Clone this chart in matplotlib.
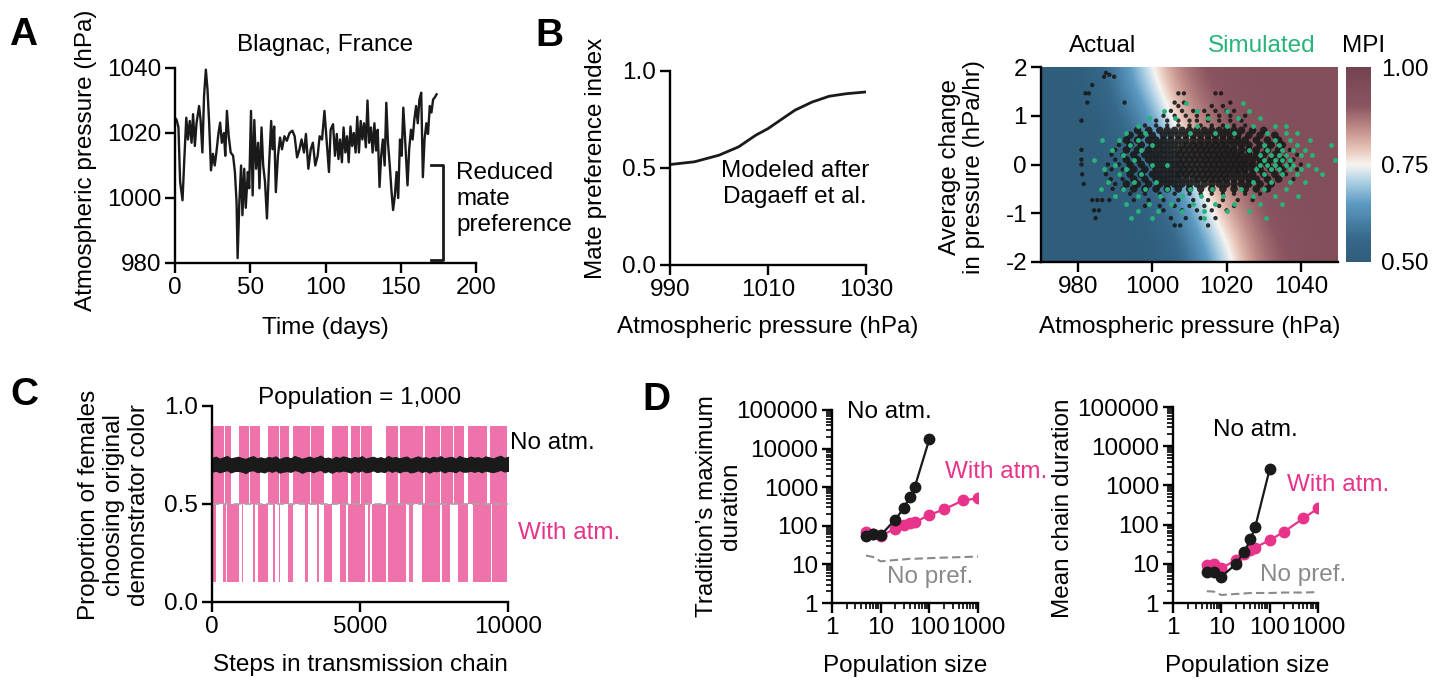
import numpy as np
import matplotlib
matplotlib.use('Agg')
import matplotlib.pyplot as plt
from matplotlib.colors import LinearSegmentedColormap
from matplotlib.ticker import LogLocator, NullFormatter

plt.rcParams['font.family'] = ['Liberation Sans', 'DejaVu Sans']
plt.rcParams['font.size'] = 17.5
plt.rcParams['axes.unicode_minus'] = False

#%% data
# A: pressure record, Blagnac
days_A = [0, 1.1, 2.3, 3.4, 5, 6.1, 7.5, 8.6, 9.8, 11, 12, 13.2, 14.3, 16, 17, 18.2, 19.3, 20.5,
          21.6, 22.7, 23.9, 25.2, 26.4, 27.5, 28.9, 30, 31.1, 32.5, 33.4, 34.5, 35.7, 37, 38.6,
          39.8, 40.9, 41.6, 42.7, 43.9, 44.8, 46, 47, 48.4, 49.3, 50.5, 51.6, 52.7, 53.9, 55.2,
          56.1, 57.5, 58.6, 59.8, 61.1, 62.5, 63.9, 64.8, 65.9, 67, 68.4, 69.8, 71.1, 72.7, 74.3,
          76.1, 78, 79.5, 81.1, 82.5, 84.1, 85.7, 87, 88.6, 90.2, 91.6, 93.2, 94.8, 96.1, 97.7,
          99.3, 100.7, 102.3, 103.4, 105, 106.3, 107.5, 108.6, 109.7, 110.9, 112, 113.2, 114.3,
          115.4, 116.6, 117.7, 118.8, 120, 121.1, 122.2, 123.4, 124.5, 125.6, 126.8, 127.9, 129,
          130.2, 131.3, 132.5, 133.6, 134.7, 135.9, 137, 138.1, 139.3, 140.4, 141.5, 142.7, 143.8,
          144.9, 146.1, 147.2, 148.3, 149.5, 150.6, 151.7, 152.9, 154.5, 155.6, 156.8, 157.9, 159,
          160.2, 161.3, 162.4, 163.6, 164.7, 165.8, 167, 168.1, 169.3, 170.4, 171.5, 172.7, 173.8]
press_A = [1024.7, 1024, 1021.7, 1005, 999.3, 1011, 1024.7, 1018, 1023.7, 1017, 1025.8, 1016, 1023,
           1028.3, 1024, 1014, 1031.4, 1039.5, 1033.4, 1023, 1008.5, 1013.6, 1010, 1014, 1020,
           1023.2, 1017, 1020, 1013, 1026.8, 1019, 1014, 1013, 1008, 998.8, 981.5, 998, 1010,
           994.7, 1009, 997, 1008, 1003, 1026.8, 1000.8, 1024, 1009, 1017, 1003, 1021.7, 1010,
           1005, 993.7, 1010, 1023.7, 1015, 1022, 1001.8, 1013, 1018.6, 1015, 1019, 1017.6, 1020,
           1020.7, 1019, 1012.5, 1014.6, 1018, 1014, 1019.7, 1009, 1015, 1017, 1010, 1013, 1019,
           1018, 1026.8, 1018, 1008, 1021, 1022.7, 1013, 1019.7, 1012, 1018, 1011, 1021.7, 1014,
           1019, 1011, 1022, 1016, 1020, 1014, 1025, 1014, 1023.7, 1018, 1023, 1015.6, 1030, 1017,
           1021.7, 1014, 1023, 1014.6, 1021, 1003.4, 1013, 1018, 1010, 1029.3, 1017, 1010, 1002.4,
           996.3, 1000.8, 1008, 1000, 1018, 1013, 1027.8, 1018, 1003.9, 1015, 1021, 1018, 1024,
           1028.3, 1023, 1030.3, 1032.4, 1006.4, 1018, 1023, 1019.7, 1028.3, 1026.3, 1030.3, 1031,
           1031.9]
bracket_days = [170, 178]          # bracket for reduced mate preference
bracket_hpa = [1010, 981]

# B left: modelled mate preference index
mpi_p = [990, 995, 1000, 1004, 1007.5, 1010, 1013, 1015.5, 1019, 1022.5, 1026, 1030]
mpi_v = [0.518, 0.532, 0.566, 0.609, 0.669, 0.703, 0.755, 0.798, 0.840, 0.870, 0.883, 0.892]

# B right: MPI surface, rows dp = -2..2, columns p = 970..1050 step 5
grid_p = [970, 975, 980, 985, 990, 995, 1000, 1005, 1010, 1015, 1020, 1025, 1030, 1035, 1040, 1045, 1050]
grid_dp = [-2, -1, 0, 1, 2]
mpi_grid = [
    [0.50, 0.50, 0.50, 0.50, 0.50, 0.50, 0.51, 0.53, 0.57, 0.63, 0.71, 0.80, 0.86, 0.89, 0.92, 0.93, 0.93],
    [0.50, 0.50, 0.50, 0.50, 0.50, 0.51, 0.53, 0.57, 0.64, 0.73, 0.81, 0.86, 0.90, 0.92, 0.93, 0.93, 0.93],
    [0.50, 0.50, 0.50, 0.50, 0.51, 0.54, 0.58, 0.65, 0.74, 0.82, 0.87, 0.90, 0.92, 0.93, 0.93, 0.93, 0.93],
    [0.50, 0.50, 0.50, 0.51, 0.55, 0.59, 0.66, 0.75, 0.83, 0.87, 0.90, 0.92, 0.93, 0.93, 0.93, 0.93, 0.93],
    [0.50, 0.50, 0.52, 0.55, 0.60, 0.68, 0.76, 0.84, 0.88, 0.91, 0.92, 0.93, 0.93, 0.93, 0.93, 0.93, 0.93],
]

# actual points: (change in pressure, [pressures])
actual_rows = [
    (1.88, [987.5]), (1.84, [988.4]), (1.80, [987.0, 989.7]), (1.63, [983.8]),
    (1.46, [982.0, 982.9, 1007, 1008.5, 1017, 1018.5]),
    (1.27, [982.5, 992.5, 1006, 1008.5, 1021]),
    (1.2, [1007, 1016, 1019]),
    (1.1, [1005, 1008, 1011, 1014, 1017, 1020, 1022]),
    (1.0, [1003, 1006, 1009, 1012, 1015, 1018, 1021, 1025]),
    (0.9, [980.9, 1001, 1004, 1007, 1010, 1012, 1015, 1018, 1021, 1024]),
    (0.8, [998, 1001, 1004, 1007, 1010, 1013, 1016, 1019, 1022, 1025]),
    (0.7, [996, 999, 1002, 1004, 1006, 1008, 1010, 1012, 1014, 1016, 1018, 1020, 1022, 1024, 1027, 1030]),
    (0.6, [994, 997, 1000, 1003, 1005, 1007, 1009, 1011, 1013, 1015, 1017, 1019, 1021, 1023, 1026, 1029, 1033]),
    (0.5, [993, 996, 999, 1001, 1003, 1005, 1007, 1009, 1011, 1013, 1015, 1017, 1019, 1021, 1023, 1025, 1028, 1031, 1034]),
    (0.4, [991, 994, 997, 1000, 1002, 1004, 1006, 1008, 1009.5, 1011, 1012.5, 1014, 1015.5, 1017, 1018.5, 1020, 1022, 1024, 1026, 1029, 1032, 1035]),
    (0.3, [980.9, 990, 993, 996, 999, 1001, 1003, 1005, 1007, 1008.5, 1010, 1011.5, 1013, 1014.5, 1016, 1017.5, 1019, 1020.5, 1022, 1024, 1026, 1028, 1031, 1034, 1037]),
    (0.2, [989, 992, 995, 998, 1000, 1002, 1004, 1006, 1007.5, 1009, 1010.5, 1012, 1013.5, 1015, 1016.5, 1018, 1019.5, 1021, 1022.5, 1024, 1026, 1028, 1030, 1033, 1036, 1039]),
    (0.1, [980.9, 990, 993, 996, 999, 1001, 1003, 1005, 1007, 1008.5, 1010, 1011.5, 1013, 1014.5, 1016, 1017.5, 1019, 1020.5, 1022, 1023.5, 1025, 1027, 1029, 1032, 1035, 1038]),
    (0.0, [980.9, 988, 991, 994, 997, 1000, 1002, 1004, 1006, 1007.5, 1009, 1010.5, 1012, 1013.5, 1015, 1016.5, 1018, 1019.5, 1021, 1022.5, 1024, 1025.5, 1027, 1029, 1031, 1034, 1037, 1040]),
    (-0.1, [989, 992, 995, 998, 1001, 1003, 1005, 1007, 1008.5, 1010, 1011.5, 1013, 1014.5, 1016, 1017.5, 1019, 1020.5, 1022, 1023.5, 1025, 1027, 1029, 1032, 1035, 1039]),
    (-0.2, [981.1, 987.5, 991, 994, 997, 1000, 1002, 1004, 1006, 1007.5, 1009, 1010.5, 1012, 1013.5, 1015, 1016.5, 1018, 1019.5, 1021, 1023, 1025, 1027, 1030, 1033, 1036]),
    (-0.3, [988.8, 992, 995, 998, 1001, 1003, 1005, 1007, 1009, 1011, 1012.5, 1014, 1015.5, 1017, 1018.5, 1020, 1022, 1024, 1026, 1028, 1031, 1034, 1038]),
    (-0.4, [981.5, 990, 993, 996, 999, 1002, 1004, 1006, 1008, 1010, 1012, 1014, 1016, 1018, 1020, 1022, 1024, 1026, 1029, 1032]),
    (-0.5, [989.3, 992, 995, 998, 1001, 1004, 1007, 1010, 1013, 1016, 1019, 1022, 1025, 1028, 1031]),
    (-0.6, [994, 998, 1002, 1006, 1010, 1013, 1016, 1019, 1022, 1025, 1029]),
    (-0.73, [983.8, 985.2, 986.5, 988.4, 995, 999, 1003, 1007, 1011, 1015, 1019, 1023, 1027]),
    (-0.85, [998, 1002, 1006, 1010, 1014, 1018, 1022]),
    (-0.94, [984.3, 985.6, 1003, 1008, 1012, 1016, 1020]),
    (-1.1, [984.7, 1005, 1009, 1013, 1017]),
    (-1.25, [1006, 1007.5, 1015]),
]
simulated_rows = [
    (1.27, [1009, 1024.3]), (1.1, [1003, 1012, 1020, 1026]),
    (0.95, [999, 1006, 1015, 1023, 1029]),
    (0.8, [996, 1012, 1020, 1027, 1033, 1036]),
    (0.65, [993, 998, 1010, 1017, 1022, 1031, 1036, 1039]),
    (0.5, [986.5, 991, 996, 1033, 1037, 1042.5]),
    (0.4, [994, 1000, 1030, 1034, 1039, 1048]),
    (0.3, [989, 997, 1026, 1031, 1035, 1038, 1041]),
    (0.2, [992, 1029, 1032, 1034, 1036, 1040, 1043]),
    (0.1, [984.2, 995, 1030, 1033, 1035, 1037, 1049.3]),
    (0.0, [990, 1000, 1004, 1029, 1031, 1033, 1036, 1038, 1042]),
    (-0.1, [987, 993, 1028, 1032, 1034, 1037, 1040, 1044]),
    (-0.2, [991, 997, 1030, 1035, 1039, 1045.6]),
    (-0.35, [988, 995, 1001, 1027, 1032, 1037, 1041]),
    (-0.5, [986.1, 992, 998, 1004, 1010, 1016, 1024, 1030, 1036]),
    (-0.65, [990, 996, 1002, 1008, 1013, 1019, 1027, 1033, 1039.3]),
    (-0.8, [993, 999, 1005, 1011, 1017, 1022, 1029, 1035]),
    (-0.95, [996, 1001.5, 1008, 1014, 1020, 1026]),
    (-1.1, [994.3, 1000, 1013.8, 1030.6]),
]

# C: transmission chain, population 1000 -- spread of the no-atm. run
no_atm_hi = [0.735, 0.742, 0.731, 0.738, 0.745, 0.733, 0.737, 0.741, 0.734, 0.730, 0.739, 0.744, 0.733,
             0.738, 0.732, 0.740, 0.736, 0.743, 0.729, 0.737, 0.740, 0.733, 0.745, 0.738, 0.731, 0.736,
             0.742, 0.734, 0.739, 0.747, 0.733, 0.737, 0.730, 0.741, 0.735, 0.743, 0.738, 0.732, 0.740,
             0.736, 0.744, 0.731, 0.737, 0.741, 0.734, 0.739, 0.732, 0.745, 0.736, 0.740, 0.733, 0.738,
             0.742, 0.730, 0.737, 0.743, 0.735, 0.739, 0.732, 0.741, 0.736, 0.744, 0.733, 0.738, 0.740,
             0.731, 0.745, 0.737, 0.734, 0.742, 0.736, 0.739, 0.733, 0.743, 0.738, 0.732, 0.740, 0.746,
             0.735, 0.741]
no_atm_lo = [0.664, 0.670, 0.662, 0.667, 0.673, 0.661, 0.668, 0.669, 0.665, 0.658, 0.670, 0.672, 0.663,
             0.666, 0.661, 0.671, 0.664, 0.672, 0.660, 0.665, 0.668, 0.664, 0.673, 0.669, 0.659, 0.667,
             0.670, 0.662, 0.670, 0.674, 0.661, 0.668, 0.659, 0.669, 0.666, 0.671, 0.667, 0.660, 0.671,
             0.664, 0.672, 0.662, 0.665, 0.672, 0.663, 0.667, 0.663, 0.673, 0.664, 0.671, 0.661, 0.669,
             0.670, 0.661, 0.665, 0.672, 0.663, 0.670, 0.660, 0.669, 0.667, 0.672, 0.661, 0.669, 0.668,
             0.662, 0.673, 0.665, 0.665, 0.670, 0.664, 0.670, 0.662, 0.671, 0.666, 0.663, 0.668, 0.674,
             0.666, 0.669]
# with atm.: step ranges where the chain sits in the high (0.5-0.9) / low (0.1-0.5) state
high_runs = [(40, 400), (440, 650), (900, 1250), (1290, 1630), (1880, 2250), (2290, 2600),
             (2730, 3300), (3340, 3800), (4050, 4610), (4700, 5000), (5040, 5420), (5870, 6300),
             (6340, 7120), (7210, 7700), (7740, 8150), (8190, 8520), (8650, 9280), (9400, 9960)]
low_runs = [(35, 150), (380, 460), (510, 920), (1010, 1060), (1370, 1450), (1560, 1900),
            (2050, 2120), (2250, 2300), (2560, 2740), (3130, 3260), (3560, 3620), (3780, 4060),
            (4330, 4520), (4580, 5180), (5280, 5350), (5400, 5880), (5930, 6550), (6660, 6780),
            (7100, 7700), (7760, 8050), (8300, 8660), (8830, 9300), (9260, 9420), (9460, 9970)]

# D: population sizes and durations
pop_no_atm = [5, 7, 10, 20, 30, 40, 50, 100]
pop_atm = [5, 7, 10, 20, 30, 40, 50, 100, 200, 500, 1000]
max_no_atm = [54, 60, 57, 145, 290, 570, 1000, 17500]
max_atm = [68, 62, 55, 85, 105, 115, 122, 192, 265, 460, 510]
max_no_pref = [17, 15.5, 12, 13, 13.5, 14, 14, 14.5, 15, 15.5, 16]
mean_no_atm = [6.3, 6.3, 4.7, 9.8, 20.4, 42, 85, 2600]
mean_atm = [9.3, 9.9, 7.7, 12.5, 17.8, 22.6, 26, 40, 66, 145, 260]
mean_no_pref = [2.0, 1.95, 1.6, 1.7, 1.75, 1.8, 1.8, 1.8, 1.85, 1.85, 1.9]

#%% style
W, H = 1433, 683
fig = plt.figure(figsize=(W / 100, H / 100), dpi=100)
pink_line = '#ee73aa'
pink = '#e8338b'
green = '#27b37a'
grey = '#8a8a8a'
ink = '#1a1a1a'

def box(l, r, t, b):
    return fig.add_axes([l / W, 1 - b / H, (r - l) / W, (b - t) / H])

def put(x, y, s, **kw):
    kw.setdefault('ha', 'center')
    kw.setdefault('va', 'center')
    return fig.text(x / W, 1 - y / H, s, **kw)

def style(ax):
    for s in ['top', 'right']:
        ax.spines[s].set_visible(False)
    for s in ['left', 'bottom']:
        ax.spines[s].set_linewidth(1.7)
    ax.tick_params(width=1.7, length=7, labelsize=17.5, pad=3)

#%% A
axA = box(175, 476, 68, 263)
style(axA)
axA.plot(days_A, press_A, color=ink, lw=1.7)
axA.plot([bracket_days[0], bracket_days[1], bracket_days[1], bracket_days[0]],
         [bracket_hpa[0], bracket_hpa[0], bracket_hpa[1], bracket_hpa[1]],
         color=ink, lw=2, clip_on=False)
axA.set_xlim(0, 200)
axA.set_ylim(980, 1040)
axA.set_xticks([0, 50, 100, 150, 200])
axA.set_yticks([980, 1000, 1020, 1040])
put(325, 45, 'Blagnac, France')
put(325, 328, 'Time (days)')
put(86, 160, 'Atmospheric pressure (hPa)', rotation=90)
put(456, 199, 'Reduced\nmate\npreference', ha='left', linespacing=1.22)

#%% B left
axB1 = box(670, 866, 71, 265)
style(axB1)
axB1.plot(mpi_p, mpi_v, color=ink, lw=2)
axB1.set_xlim(990, 1030)
axB1.set_ylim(0, 1)
axB1.set_xticks([990, 1010, 1030])
axB1.set_yticks([0, 0.5, 1.0])
axB1.set_yticklabels(['0.0', '0.5', '1.0'])
put(596, 158, 'Mate preference index', rotation=90)
put(768, 327, 'Atmospheric pressure (hPa)')
put(795, 184, 'Modeled after\nDagaeff et al.', linespacing=1.2)

#%% B right
cmap = LinearSegmentedColormap.from_list('mpi', [
    (0.00, '#2f5d7a'), (0.12, '#36688a'), (0.30, '#5d9bc3'), (0.42, '#b4d4e6'),
    (0.50, '#f6f4f1'), (0.58, '#e8c4b7'), (0.68, '#c28e89'), (0.80, '#8a5560'),
    (1.00, '#744350')])
axB2 = box(1041, 1338, 67, 262)
style(axB2)
im = axB2.imshow(np.array(mpi_grid), extent=[967.5, 1052.5, -2.5, 2.5], origin='lower',
                 aspect='auto', cmap=cmap, vmin=0.5, vmax=1.0, interpolation='bicubic')
ax_p = [p for dp, ps in actual_rows for p in ps]
ax_d = [dp for dp, ps in actual_rows for p in ps]
# bigger dots in the crowded core so it reads as a solid blob
ax_s = [30 if (len(ps) >= 15 and 992 < p < 1036) else 10 for dp, ps in actual_rows for p in ps]
sm_p = [p for dp, ps in simulated_rows for p in ps]
sm_d = [dp for dp, ps in simulated_rows for p in ps]
axB2.scatter(ax_p, ax_d, s=ax_s, color=ink, alpha=0.9, lw=0)
axB2.scatter(sm_p, sm_d, s=12, color=green, lw=0)
axB2.set_xlim(970, 1050)
axB2.set_ylim(-2, 2)
axB2.set_xticks([980, 1000, 1020, 1040])
axB2.set_yticks([-2, -1, 0, 1, 2])
put(962, 167, 'Average change\nin pressure (hPa/hr)', rotation=90, linespacing=1.15)
put(1190, 327, 'Atmospheric pressure (hPa)')
put(1103, 46, 'Actual')
put(1262, 46, 'Simulated', color=green)
put(1364, 46, 'MPI')

cax = box(1346, 1371, 67, 262)
cb = fig.colorbar(im, cax=cax, ticks=[0.5, 0.75, 1.0])
cb.outline.set_visible(False)
cax.set_yticklabels(['0.50', '0.75', '1.00'])
cax.tick_params(length=0, pad=7, labelsize=17.5)

#%% C
axC = box(212, 508, 406, 602)
style(axC)
axC.broken_barh([(a, b - a) for a, b in high_runs], (0.5, 0.4), facecolors=pink_line, lw=0)
axC.broken_barh([(a, b - a) for a, b in low_runs], (0.1, 0.4), facecolors=pink_line, lw=0)
axC.axhline(0.5, color='#a8a8a8', lw=1.3, ls=(0, (4, 2)))
steps_C = np.linspace(0, 10000, len(no_atm_hi))
axC.fill_between(steps_C, no_atm_lo, no_atm_hi, color=ink, lw=0.8, edgecolor=ink)
axC.set_xlim(0, 10000)
axC.set_ylim(0, 1)
axC.set_xticks([0, 5000, 10000])
axC.set_yticks([0, 0.5, 1.0])
axC.set_yticklabels(['0.0', '0.5', '1.0'])
put(360, 398, 'Population = 1,000')
put(510, 443, 'No atm.', ha='left')
put(518, 533, 'With atm.', ha='left', color=pink)
put(114, 505, 'Proportion of females\nchoosing original\ndemonstrator color', rotation=90, linespacing=1.15)
put(360, 665, 'Steps in transmission chain')

#%% D
def log_axes(ax):
    style(ax)
    ax.set_xscale('log')
    ax.set_yscale('log')
    ax.set_xlim(1, 1000)
    ax.set_ylim(1, 1e5)
    ax.set_xticks([1, 10, 100, 1000])
    ax.set_xticklabels(['1', '10', '100', '1000'])
    ax.set_yticks([1, 10, 100, 1000, 10000, 100000])
    ax.set_yticklabels(['1', '10', '100', '1000', '10000', '100000'])
    for a in [ax.xaxis, ax.yaxis]:
        a.set_minor_locator(LogLocator(base=10, subs=np.arange(2, 10), numticks=20))
        a.set_minor_formatter(NullFormatter())
    ax.tick_params(which='minor', length=4, width=1.2)

axD1 = box(832, 978, 410, 603)
log_axes(axD1)
axD1.plot(pop_atm, max_no_pref, color=grey, lw=1.5, ls=(0, (4, 2)))
axD1.plot(pop_atm, max_atm, color=pink, lw=1.6, marker='o', ms=7.5)
axD1.plot(pop_no_atm, max_no_atm, color=ink, lw=1.6, marker='o', ms=7.5)
put(847, 412, 'No atm.', ha='left')
put(945, 472, 'With atm.', ha='left', color=pink)
put(887, 577, 'No pref.', ha='left', color=grey)
put(719, 506, 'Tradition\u2019s maximum\nduration', rotation=90, linespacing=1.15)
put(905, 666, 'Population size')

axD2 = box(1173, 1318, 407, 603)
log_axes(axD2)
axD2.plot(pop_atm, mean_no_pref, color=grey, lw=1.5, ls=(0, (4, 2)))
axD2.plot(pop_atm, mean_atm, color=pink, lw=1.6, marker='o', ms=7.5)
axD2.plot(pop_no_atm, mean_no_atm, color=ink, lw=1.6, marker='o', ms=7.5)
put(1213, 430, 'No atm.', ha='left')
put(1287, 485, 'With atm.', ha='left', color=pink)
put(1260, 575, 'No pref.', ha='left', color=grey)
put(1063, 508, 'Mean chain duration', rotation=90)
put(1247, 666, 'Population size')

#%% panel letters
for x, y, s in [(23, 35, 'A'), (549, 36, 'B'), (24, 395, 'C'), (656, 400, 'D')]:
    put(x, y, s, fontsize=28, fontweight='bold')

fig.savefig('out.png', dpi=100)
